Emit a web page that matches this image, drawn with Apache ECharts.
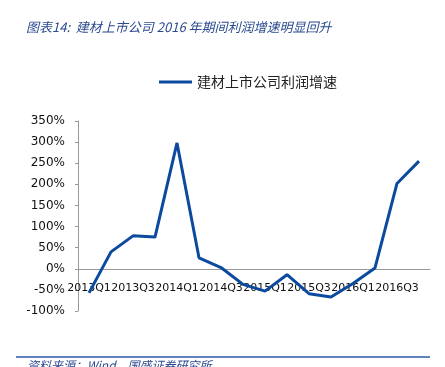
<!DOCTYPE html>
<html>
<head>
<meta charset="utf-8">
<script src="https://cdn.jsdelivr.net/npm/echarts@6/dist/echarts.min.js"></script>
<style>
html,body{margin:0;padding:0;background:#fff;}
#main{width:445px;height:367px;}
</style>
</head>
<body>
<div id="main"></div>
<script>
// quarters, one point each
var quarters = ['2013Q1','2013Q2','2013Q3','2013Q4','2014Q1','2014Q2','2014Q3','2014Q4',
	'2015Q1','2015Q2','2015Q3','2015Q4','2016Q1','2016Q2','2016Q3','2016Q4'];
// 建材上市公司利润增速 (%)
var profitGrowth = [-57, 40, 78, 75, 298, 26, 3, -37, -53, -14, -59, -67, -35, 2, 202, 255];
var yTicks = {min: -100, max: 350, step: 50};

var titleText = '图表14:  建材上市公司 2016 年期间利润增速明显回升';
var sourceText = '资料来源：Wind，国盛证券研究所';
var lineColor = '#0b4a9e';

var gridTop = 121, gridBottom = 56, plotH = 367 - gridTop - gridBottom;
// move the x axis up to the 0% line
var zeroShift = plotH * (0 - yTicks.min) / (yTicks.max - yTicks.min);

var chart = echarts.init(document.getElementById('main'));
chart.setOption({
	animation: false,
	graphic: [
		{type: 'text', left: 26, top: 21, style: {text: titleText, fill: '#2b4b8f',
			font: 'italic 13px "Noto Sans CJK SC"'}},
		{type: 'line', shape: {x1: 16, y1: 357, x2: 430, y2: 357},
			style: {stroke: '#2b5aa8', lineWidth: 1.5}},
		{type: 'text', left: 27, top: 359, style: {text: sourceText, fill: '#2b4b8f',
			font: 'italic 12px "Noto Sans CJK SC"'}}
	],
	legend: {
		top: 70, left: 154,
		itemWidth: 33, itemHeight: 14, itemGap: 3,
		textStyle: {fontFamily: 'Noto Sans CJK SC', fontSize: 14, color: '#222'},
		data: [{name: '建材上市公司利润增速', icon: 'path://M0,0 L33,0 L33,3 L0,3 Z'}]
	},
	grid: {left: 78, right: 15, top: gridTop, bottom: gridBottom},
	xAxis: {
		type: 'category',
		data: quarters,
		boundaryGap: true,
		offset: -zeroShift,
		axisLine: {onZero: false, lineStyle: {color: '#999'}},
		axisTick: {inside: true, length: 4, interval: 0, lineStyle: {color: '#999'}},
		axisLabel: {interval: 1, margin: 14, hideOverlap: false, fontFamily: 'DejaVu Sans',
			fontSize: 11, color: '#111'}
	},
	yAxis: {
		type: 'value',
		min: yTicks.min, max: yTicks.max, interval: yTicks.step,
		splitLine: {show: false},
		axisLine: {show: true, lineStyle: {color: '#999'}},
		axisTick: {show: true, length: 3, lineStyle: {color: '#999'}},
		axisLabel: {formatter: '{value}%', margin: 13, fontFamily: 'DejaVu Sans',
			fontSize: 12, color: '#111'}
	},
	series: [{
		name: '建材上市公司利润增速',
		type: 'line',
		data: profitGrowth,
		symbol: 'none',
		lineStyle: {color: lineColor, width: 3},
		itemStyle: {color: lineColor}
	}]
});
</script>
</body>
</html>
